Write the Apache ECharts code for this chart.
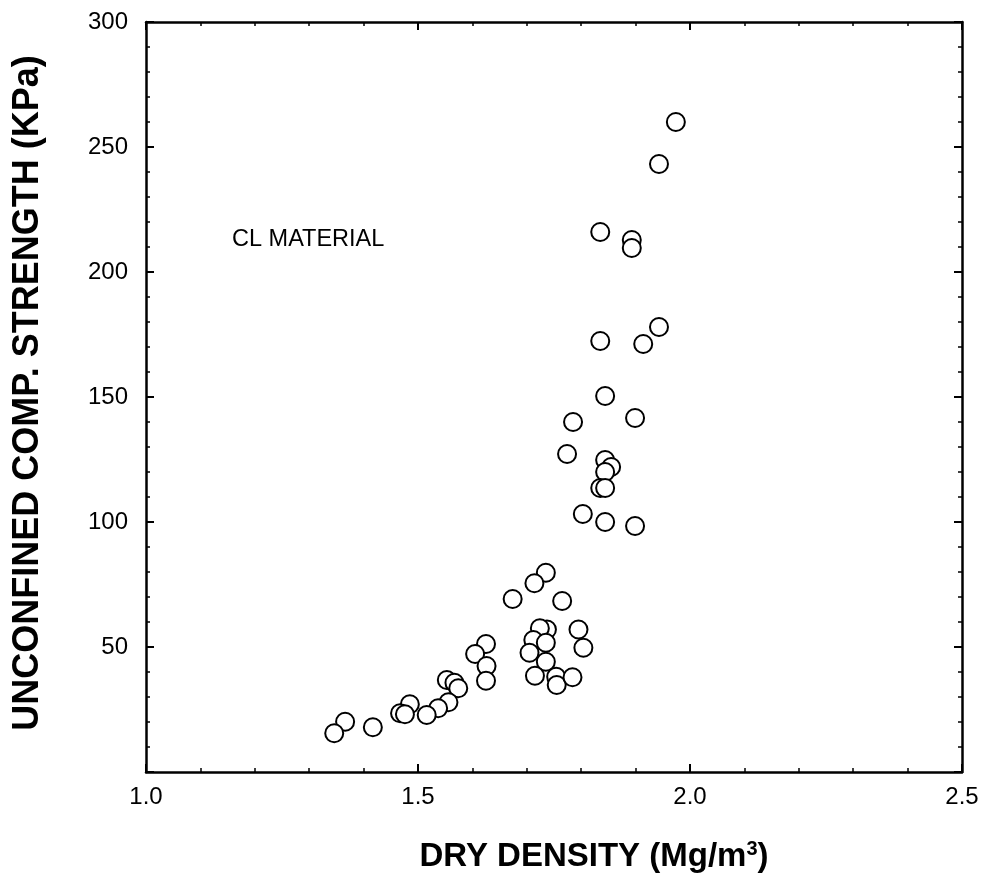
<!DOCTYPE html>
<html>
<head>
<meta charset="utf-8">
<script src="https://cdn.jsdelivr.net/npm/echarts@6/dist/echarts.min.js"></script>
<style>html,body{margin:0;padding:0;background:#fff}#c{width:986px;height:880px}</style>
</head>
<body>
<div id="c"></div>
<script>
// Dry density (Mg/m3)
var dryDensity = [
  1.974, 1.943, 1.835, 1.893, 1.893, 1.943, 1.835, 1.914, 1.844, 1.899,
  1.785, 1.774, 1.844, 1.855, 1.844, 1.835, 1.844, 1.803, 1.844, 1.899,
  1.735, 1.714, 1.674, 1.765, 1.737, 1.724, 1.795, 1.712, 1.735, 1.705,
  1.804, 1.735, 1.625, 1.605, 1.626, 1.625, 1.715, 1.754, 1.755, 1.784,
  1.553, 1.567, 1.574, 1.556, 1.537, 1.516, 1.485, 1.467, 1.476, 1.366,
  1.346, 1.417
];
// Unconfined compressive strength (kPa)
var strength = [
  260.0, 243.2, 216.0, 212.8, 209.6, 178.0, 172.4, 171.2, 150.4, 141.6,
  140.0, 127.2, 124.8, 122.0, 120.0, 113.6, 113.6, 103.2, 100.0, 98.4,
  79.7, 75.5, 69.2, 68.4, 57.0, 57.5, 57.0, 52.8, 51.7, 47.7,
  49.7, 44.1, 51.2, 47.2, 42.4, 36.5, 38.5, 38.1, 34.8, 37.9,
  36.8, 35.7, 33.5, 27.9, 25.5, 22.8, 27.1, 23.5, 23.1, 20.1,
  15.5, 17.9
];
var xTicks = [1.0, 1.5, 2.0, 2.5];
var yTicks = [50, 100, 150, 200, 250, 300];
var annotation = 'CL MATERIAL';

var points = dryDensity.map(function (d, i) { return [d, strength[i]]; });

var font = 'Liberation Sans, Arial, Helvetica, sans-serif';
var chart = echarts.init(document.getElementById('c'), null, {renderer: 'canvas'});

var axisCommon = {
  axisLine: {show: true, onZero: false, lineStyle: {color: '#000', width: 2.5}},
  axisTick: {show: true, inside: true, length: 8, lineStyle: {color: '#000', width: 2}},
  minorTick: {show: true, splitNumber: 5, length: 4, lineStyle: {color: '#000', width: 1.5}},
  splitLine: {show: false}
};

chart.setOption({
  animation: false,
  backgroundColor: '#fff',
  grid: {left: 146, right: 24, top: 22, bottom: 108, containLabel: false},
  xAxis: [
    Object.assign({
      type: 'value', min: 1.0, max: 2.5, interval: 0.5, position: 'bottom',
      name: 'DRY DENSITY (Mg/m{sup|3})', nameLocation: 'middle', nameGap: 67,
      nameTextStyle: {fontFamily: font, fontSize: 33, fontWeight: 'bold', color: '#000',
        padding: [0, 0, 0, 80],
        rich: {sup: {fontFamily: font, fontSize: 20, fontWeight: 'bold', color: '#000', verticalAlign: 'top', padding: [0, 0, 16, 0]}}},
      axisLabel: {show: true, margin: 13, fontFamily: font, fontSize: 24, color: '#000',
        formatter: function (v) { return xTicks.indexOf(+v.toFixed(1)) >= 0 ? v.toFixed(1) : ''; }}
    }, axisCommon),
    Object.assign({
      type: 'value', min: 1.0, max: 2.5, interval: 0.5, position: 'top',
      axisLabel: {show: false}
    }, axisCommon)
  ],
  yAxis: [
    Object.assign({
      type: 'value', min: 0, max: 300, interval: 50, position: 'left',
      name: 'UNCONFINED COMP. STRENGTH (KPa)', nameLocation: 'middle', nameGap: 100,
      nameTextStyle: {fontFamily: font, fontSize: 36, fontWeight: 'bold', color: '#000',
        padding: [0, 0, 0, 8]},
      axisLabel: {show: true, margin: 18, fontFamily: font, fontSize: 24, color: '#000',
        showMinLabel: false,
        formatter: function (v) { return yTicks.indexOf(v) >= 0 ? String(v) : ''; }}
    }, axisCommon),
    Object.assign({
      type: 'value', min: 0, max: 300, interval: 50, position: 'right',
      axisLabel: {show: false}
    }, axisCommon)
  ],
  graphic: [{
    type: 'text', left: 232, top: 228,
    style: {text: annotation, fontFamily: font, fontSize: 23.5, fill: '#000'}
  }],
  series: [{
    type: 'scatter',
    xAxisIndex: 0, yAxisIndex: 0,
    data: points,
    symbol: 'circle',
    symbolSize: 18,
    itemStyle: {color: '#fff', borderColor: '#000', borderWidth: 2, opacity: 1},
    emphasis: {disabled: true}
  }]
});
</script>
</body>
</html>
